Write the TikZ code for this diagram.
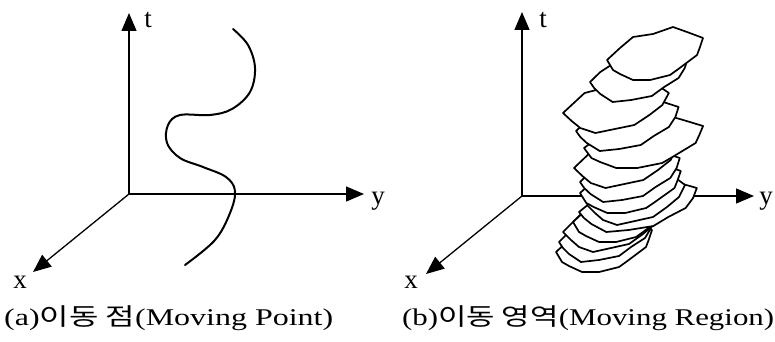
\documentclass[tikz,border=0pt]{standalone}
\usepackage{fontspec}
\usepackage{graphicx}
\setmainfont{Liberation Serif}
\newfontfamily\kr{Noto Sans CJK KR}
\usetikzlibrary{arrows.meta}
\newcommand{\slA}{(0,0)--(13,-12)--(26,-23)--(46,-26)--(66,-33)--(80,-28)--(96,-22)--(93,-13)--(90,-5)--(70,10)--(63,15)--(43,20)--(26,20)--(13,14)--(6,10)--(3,5)--cycle}
\newcommand{\slB}{(0,0)--(10,-10)--(22,-18)--(30,-24)--(50,-27)--(62,-32)--(78,-30)--(95,-24)--(92,-14)--(86,-4)--(72,5)--(60,14)--(40,18)--(22,20)--(10,12)--(4,6)--cycle}
\newcommand{\slC}{(0,0)--(8,-8)--(20,-20)--(38,-25)--(55,-26)--(70,-32)--(90,-26)--(98,-20)--(92,-8)--(80,2)--(66,12)--(48,16)--(30,20)--(16,15)--(8,8)--cycle}
\begin{document}
\begin{tikzpicture}[x=1pt,y=-1pt,
  axis/.style={line width=1.3pt,-{Triangle[length=18pt,width=15pt]}},
  slice/.style={draw,fill=white,line width=1.7pt,line join=round},
  track/.style={line width=2pt,line cap=round},
  lbl/.style={anchor=base,inner sep=0pt,font=\fontsize{27}{30}\selectfont},
  captext/.style={anchor=base west,inner sep=0pt,font=\fontsize{24}{28}\selectfont}]
\useasboundingbox (0,0) rectangle (775,342);
% ---- left panel
\coordinate (oL) at (129,194);
\coordinate (tL) at (129,13);
\coordinate (yL) at (364,194);
\coordinate (xL) at (33,272);
\draw[axis] (oL) -- (tL);
\draw[axis] (oL) -- (yL);
\draw[axis] (oL) -- (xL);
\node[lbl] (tlabL) at (148,28) {t};
\node[lbl] (ylabL) at (378,204) {y};
\node[lbl] (xlabL) at (20,288) {x};
\draw[track] plot[smooth,tension=0.6] coordinates {(233,29) (248,45) (255,68) (250,92) (232,109) (210,115) (180,115) (168,125) (167,143) (180,158) (203,167) (226,177) (235,191) (230,213) (215,240) (185,265)};
\node[captext] (capA) at (4,325) {\resizebox{329pt}{\height}{(a){\kr 이동 점}(Moving Point)}};
% ---- right panel
\coordinate (oR) at (522,196);
\coordinate (tR) at (522,12);
\coordinate (yR) at (754,196);
\coordinate (xR) at (426,274);
\draw[axis] (oR) -- (tR);
\draw[axis] (oR) -- (yR);
\draw[axis] (oR) -- (xR);
\node[lbl] (tlabR) at (543,28) {t};
\node[lbl] (ylabR) at (766,204) {y};
\node[lbl] (xlabR) at (411,288) {x};
\foreach \px/\py/\sh/\sx in {556/252/A/1,559/242/B/1,563/232/C/1,573/222/A/1,579/212/B/1.24,587/205/C/1,580/193/A/1.05,580/182/B/1.05,574/168/C/1.05,584/148/A/1.24,576/131/B/1.08,563/113/C/1.08,590/82/B/1.03,607/60/A/1}{
  \begin{scope}[shift={(\px,\py)},xscale=\sx]
    \draw[slice] \csname sl\sh\endcsname;
  \end{scope}
}
\node[captext] (capB) at (402,325) {\resizebox{372pt}{\height}{(b){\kr 이동 영역}(Moving Region)}};
\end{tikzpicture}
\end{document}
